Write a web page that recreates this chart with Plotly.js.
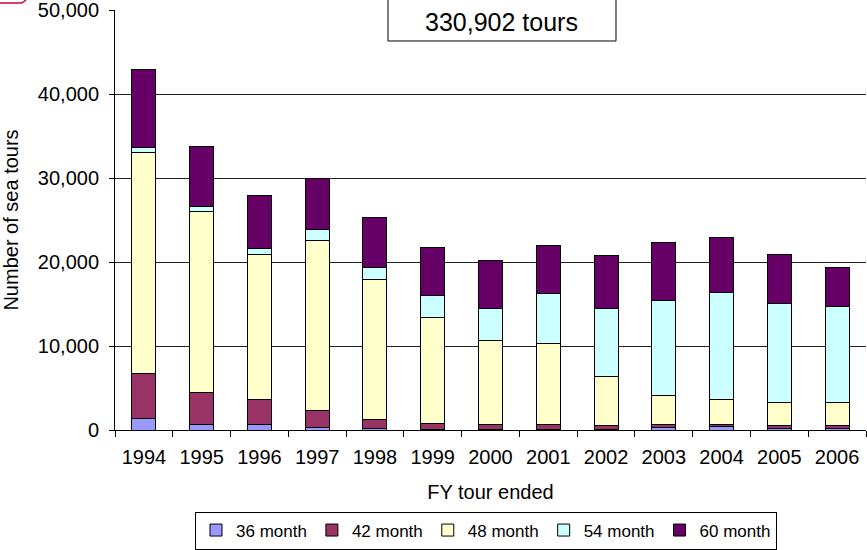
<!DOCTYPE html>
<html>
<head>
<meta charset="utf-8">
<script src="https://cdn.plot.ly/plotly-3.0.1.min.js"></script>
<style>
  html, body { margin: 0; padding: 0; background: #ffffff; }
  #chart { width: 867px; height: 550px; }
</style>
</head>
<body>
<div id="chart"></div>
<script>
// Data
const years = ['1994','1995','1996','1997','1998','1999','2000','2001','2002','2003','2004','2005','2006'];
const month36 = [1350, 600, 600, 300, 200, 100, 80, 80, 100, 320, 360, 200, 200];
const month42 = [5400, 3920, 3050, 2050, 1030, 650, 550, 550, 410, 360, 320, 310, 280];
const month48 = [26260, 21550, 17300, 20250, 16630, 12700, 9970, 9690, 5880, 3370, 2970, 2820, 2850];
const month54 = [600, 510, 640, 1300, 1540, 2540, 3920, 5910, 8050, 11310, 12700, 11710, 11350];
const month60 = [9250, 7230, 6270, 6030, 5870, 5760, 5600, 5760, 6390, 6940, 6510, 5910, 4690];
const seriesNames = ['36 month', '42 month', '48 month', '54 month', '60 month'];
const seriesColors = ['#9999FF', '#993366', '#FFFFCC', '#CCFFFF', '#660066'];
const totalLabel = '330,902 tours';
const yTicks = [0, 10000, 20000, 30000, 40000, 50000];

const FONT = 'Arial, "Liberation Sans", sans-serif';
const allSeries = [month36, month42, month48, month54, month60];

const traces = allSeries.map((vals, i) => ({
  type: 'bar',
  name: seriesNames[i],
  x: years,
  y: vals,
  marker: { color: seriesColors[i], line: { color: '#000000', width: 1 } },
  hoverinfo: 'x+y+name'
}));

const layout = {
  width: 867,
  height: 550,
  margin: { l: 115, r: 1, t: 10, b: 120 },
  paper_bgcolor: '#ffffff',
  plot_bgcolor: '#ffffff',
  barmode: 'stack',
  bargap: 0.585,
  font: { family: FONT, size: 20, color: '#000000' },
  showlegend: true,
  legend: {
    orientation: 'h',
    traceorder: 'normal',
    xref: 'paper', yref: 'container',
    x: 0.494, xanchor: 'center',
    y: 0.07, yanchor: 'top',
    bordercolor: '#000000', borderwidth: 1,
    bgcolor: '#ffffff',
    font: { family: FONT, size: 17, color: '#000000' },
    itemwidth: 30
  },
  xaxis: {
    type: 'category',
    tickson: 'boundaries',
    ticks: 'outside',
    ticklen: 6,
    tickcolor: '#000000',
    ticklabelstandoff: 9,
    showline: true,
    linecolor: '#000000',
    linewidth: 1,
    showgrid: false,
    tickfont: { family: FONT, size: 20, color: '#000000' },
    title: { text: 'FY tour ended', font: { family: FONT, size: 20, color: '#000000' }, standoff: 17 },
    fixedrange: true
  },
  yaxis: {
    range: [0, 50000],
    tickvals: yTicks,
    tickformat: ',d',
    ticks: 'outside',
    ticklen: 5,
    tickcolor: '#000000',
    ticklabelstandoff: 6,
    ticklabeloverflow: 'allow',
    showline: true,
    linecolor: '#000000',
    linewidth: 1,
    showgrid: true,
    gridcolor: '#222222',
    gridwidth: 1,
    zeroline: false,
    tickfont: { family: FONT, size: 20, color: '#000000' },
    title: { text: 'Number of sea tours', font: { family: FONT, size: 20, color: '#000000' }, standoff: 14 },
    fixedrange: true
  },
  shapes: [
    {
      type: 'rect', xref: 'paper', yref: 'paper',
      x0: 0.3635, x1: 0.6671, y0: 0.9262, y1: 1.03,
      fillcolor: '#ffffff', line: { color: '#000000', width: 1 }, layer: 'above'
    },
    {
      type: 'line', xref: 'paper', yref: 'paper',
      x0: -0.1531, y0: 1.0167, x1: -0.1238, y1: 1.0167,
      line: { color: '#CC0033', width: 1.5 }
    },
    {
      type: 'line', xref: 'paper', yref: 'paper',
      x0: -0.1238, y0: 1.0167, x1: -0.1185, y1: 1.0238,
      line: { color: '#CC0033', width: 1.5 }
    }
  ],
  annotations: [
    {
      xref: 'paper', yref: 'paper',
      x: 0.5153, y: 0.9714, xanchor: 'center', yanchor: 'middle',
      text: totalLabel, showarrow: false,
      font: { family: FONT, size: 25, color: '#000000' }
    }
  ]
};

Plotly.newPlot('chart', traces, layout, { displayModeBar: false, staticPlot: true });
</script>
</body>
</html>
